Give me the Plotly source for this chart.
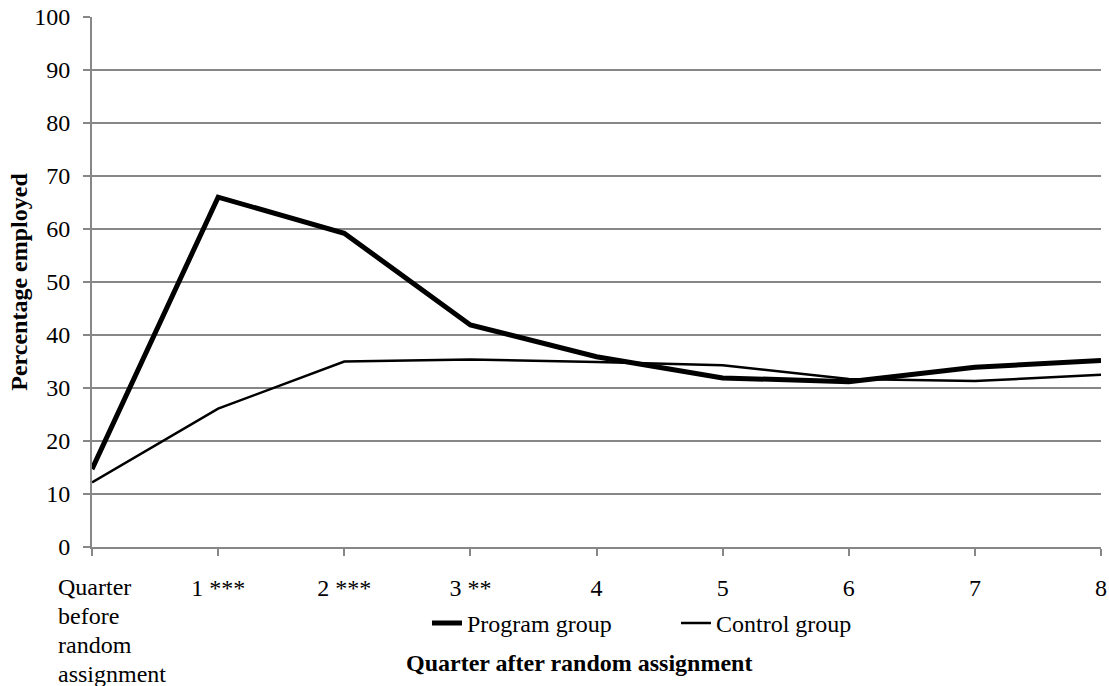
import plotly.graph_objects as go

quarters = [0, 1, 2, 3, 4, 5, 6, 7, 8]
tick_labels = ["", "1 ***", "2 ***", "3 **", "4", "5", "6", "7", "8"]
first_label_lines = ["Quarter", "before", "random", "assignment"]
program = [14.7, 66.0, 59.2, 41.9, 35.9, 31.9, 31.2, 33.9, 35.2]
control = [12.2, 26.1, 35.0, 35.4, 34.9, 34.3, 31.7, 31.3, 32.5]
y_ticks = list(range(0, 101, 10))

FONT = "Liberation Serif, Times New Roman, serif"
GRAY = "#878787"

fig = go.Figure()
fig.add_trace(go.Scatter(x=quarters, y=program, mode="lines", name="Program group",
                         line=dict(color="black", width=5)))
fig.add_trace(go.Scatter(x=quarters, y=control, mode="lines", name="Control group",
                         line=dict(color="black", width=2.5)))

annotations = []
for i, line in enumerate(first_label_lines):
    annotations.append(dict(text=line, x=quarters[0], xref="x", y=0, yref="paper",
                            xanchor="left", yanchor="top", xshift=-36, yshift=-25 - 29 * i,
                            align="left", showarrow=False, font=dict(size=24, family=FONT)))
annotations.append(dict(text="<b>Quarter after random assignment</b>", x=0.483, xref="paper",
                        y=-0.19, yref="paper", xanchor="center", yanchor="top", showarrow=False,
                        font=dict(size=24, family=FONT)))

fig.update_layout(
    width=1109, height=686,
    margin=dict(l=92, r=8, t=17, b=139),
    paper_bgcolor="white", plot_bgcolor="white",
    font=dict(family=FONT, size=24, color="black"),
    showlegend=True,
    legend=dict(orientation="h", x=0.332, xanchor="left", y=-0.1015, yanchor="top",
                font=dict(size=24), entrywidth=204, itemwidth=30,
                tracegroupgap=0, bgcolor="rgba(0,0,0,0)"),
    annotations=annotations,
)

fig.update_xaxes(range=[0, 8], tickmode="array", tickvals=quarters, ticktext=tick_labels,
                 automargin=False,
                 showgrid=False, zeroline=False, showline=True, linecolor=GRAY, linewidth=2,
                 ticks="outside", ticklen=7, tickwidth=2, tickcolor=GRAY,
                 ticklabelstandoff=11, tickfont=dict(size=24))
fig.update_yaxes(range=[0, 100], tickmode="array", tickvals=y_ticks, automargin=False,
                 showgrid=True, gridcolor=GRAY, gridwidth=2, zeroline=False,
                 showline=True, linecolor=GRAY, linewidth=2,
                 ticks="outside", ticklen=7, tickwidth=2, tickcolor=GRAY,
                 ticklabelstandoff=8, tickfont=dict(size=24),
                 title=dict(text="<b>Percentage employed</b>", font=dict(size=24), standoff=0))

fig.write_html("out.html", config={"displayModeBar": False})

with open("out.html", "r", encoding="utf-8") as f:
    html = f.read()
html = html.replace("<head>", "<head><style>html,body{margin:0;padding:0;overflow:hidden;}</style>", 1)
with open("out.html", "w", encoding="utf-8") as f:
    f.write(html)
